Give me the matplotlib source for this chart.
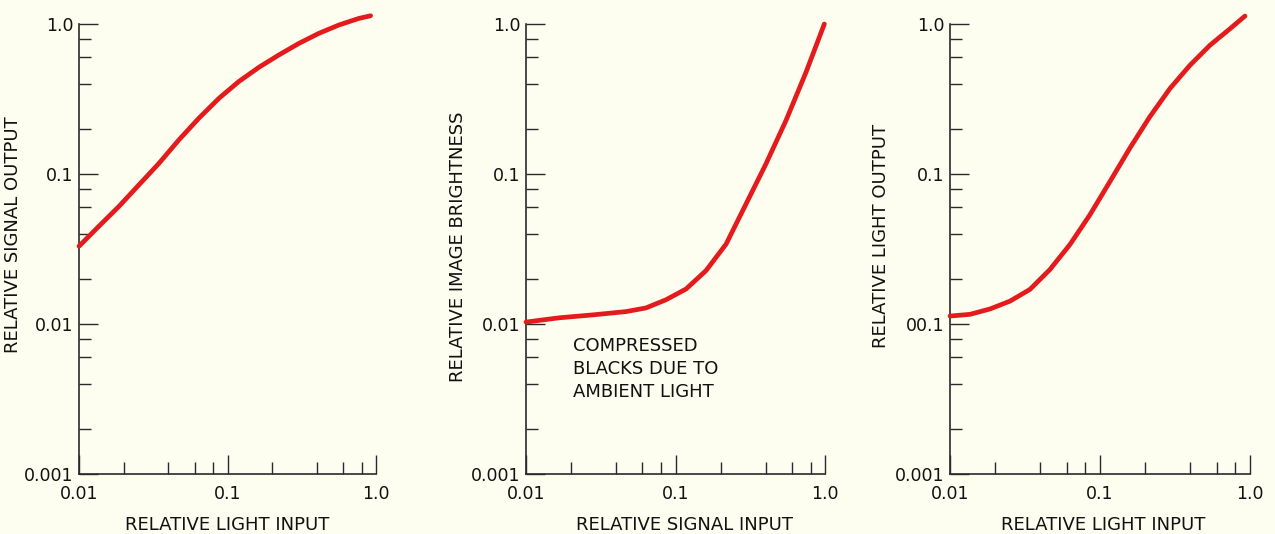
import numpy as np
import matplotlib.pyplot as plt
from matplotlib.ticker import LogLocator, NullFormatter

plt.rcParams['font.family'] = ['DejaVu Sans']

# 曲线数据
cam_x = [0.01, 0.0136, 0.0186, 0.0254, 0.0346, 0.0471, 0.0643, 0.0877, 0.119, 0.163,
         0.222, 0.303, 0.413, 0.563, 0.768, 0.92]
cam_y = [0.033, 0.0448, 0.0609, 0.0849, 0.118, 0.169, 0.236, 0.320, 0.413, 0.515,
         0.622, 0.743, 0.867, 0.985, 1.09, 1.135]

crt_x = [0.01, 0.0167, 0.0279, 0.0467, 0.0635, 0.0863, 0.1175, 0.160, 0.218, 0.296,
         0.403, 0.548, 0.746, 0.99]
crt_y = [0.0103, 0.0110, 0.0115, 0.0121, 0.0128, 0.0145, 0.0171, 0.0227, 0.0341, 0.063,
         0.117, 0.227, 0.476, 1.0]

sys_x = [0.01, 0.0136, 0.0185, 0.0251, 0.0341, 0.0464, 0.0631, 0.0858, 0.1166, 0.158,
         0.215, 0.293, 0.398, 0.541, 0.736, 0.926]
sys_y = [0.0113, 0.0116, 0.0126, 0.0142, 0.0170, 0.0231, 0.0339, 0.0536, 0.0892, 0.1485,
         0.241, 0.372, 0.531, 0.722, 0.93, 1.13]

y_ticks = [0.001, 0.01, 0.1, 1.0]
y_labels = ['0.001', '0.01', '0.1', '1.0']
y_labels_3 = ['0.001', '00.1', '0.1', '1.0']
x_ticks = [0.01, 0.1, 1.0]
x_labels = ['0.01', '0.1', '1.0']

BG = '#FDFDF0'
INK = '#2a2a2a'
RED = '#E41A1C'

fig = plt.figure(figsize=(12.75, 5.34), dpi=100, facecolor=BG)

panels = [
    dict(left=79, right=376, x=cam_x, y=cam_y, ylab=y_labels,
         xlabel='RELATIVE LIGHT INPUT', ylabel='RELATIVE SIGNAL OUTPUT',
         xl_pos=(0.50, -0.094), yl_pos=(-0.192, 0.533)),
    dict(left=526, right=825, x=crt_x, y=crt_y, ylab=y_labels,
         xlabel='RELATIVE SIGNAL INPUT', ylabel='RELATIVE IMAGE BRIGHTNESS',
         xl_pos=(0.53, -0.094), yl_pos=(-0.197, 0.504)),
    dict(left=950, right=1250, x=sys_x, y=sys_y, ylab=y_labels_3,
         xlabel='RELATIVE LIGHT INPUT', ylabel='RELATIVE LIGHT OUTPUT',
         xl_pos=(0.51, -0.094), yl_pos=(-0.2, 0.529)),
]

W, H = 1275, 534
top_px, bot_px = 24, 474
axes = []
for p in panels:
    ax = fig.add_axes([p['left'] / W, 1 - bot_px / H,
                       (p['right'] - p['left']) / W, (bot_px - top_px) / H])
    ax.set_facecolor(BG)
    ax.set_xscale('log'); ax.set_yscale('log')
    ax.set_xlim(0.01, 1.0); ax.set_ylim(0.001, 1.0)
    ax.plot(p['x'], p['y'], color=RED, linewidth=3.4, solid_capstyle='round',
            solid_joinstyle='round', clip_on=False, zorder=5)

    for side in ('top', 'right'):
        ax.spines[side].set_visible(False)
    for side in ('left', 'bottom'):
        ax.spines[side].set_color(INK)
        ax.spines[side].set_linewidth(1.2)

    ax.set_xticks(x_ticks, x_labels)
    ax.set_yticks(y_ticks, p['ylab'])
    ax.xaxis.set_minor_locator(LogLocator(base=10, subs=(2, 4, 6, 8)))
    ax.yaxis.set_minor_locator(LogLocator(base=10, subs=(2, 4, 6, 8)))
    ax.xaxis.set_minor_formatter(NullFormatter())
    ax.yaxis.set_minor_formatter(NullFormatter())
    ax.tick_params(which='major', direction='in', length=14, width=1.0, color=INK,
                   labelsize=12.5, labelcolor='#111111')
    ax.tick_params(which='minor', direction='in', length=8.5, width=1.0, color=INK)
    ax.tick_params(axis='x', which='major', pad=8)
    ax.tick_params(axis='y', which='major', pad=4)

    ax.set_xlabel(p['xlabel'], fontsize=13, color='#111111')
    ax.set_ylabel(p['ylabel'], fontsize=13, color='#111111')
    ax.xaxis.set_label_coords(*p['xl_pos'])
    ax.yaxis.set_label_coords(*p['yl_pos'])
    axes.append(ax)

axes[1].text(0.0206, 0.0082, 'COMPRESSED\nBLACKS DUE TO\nAMBIENT LIGHT',
             fontsize=13, color='#111111', ha='left', va='top', linespacing=1.35)

fig.savefig('out.png', dpi=100, facecolor=BG)
